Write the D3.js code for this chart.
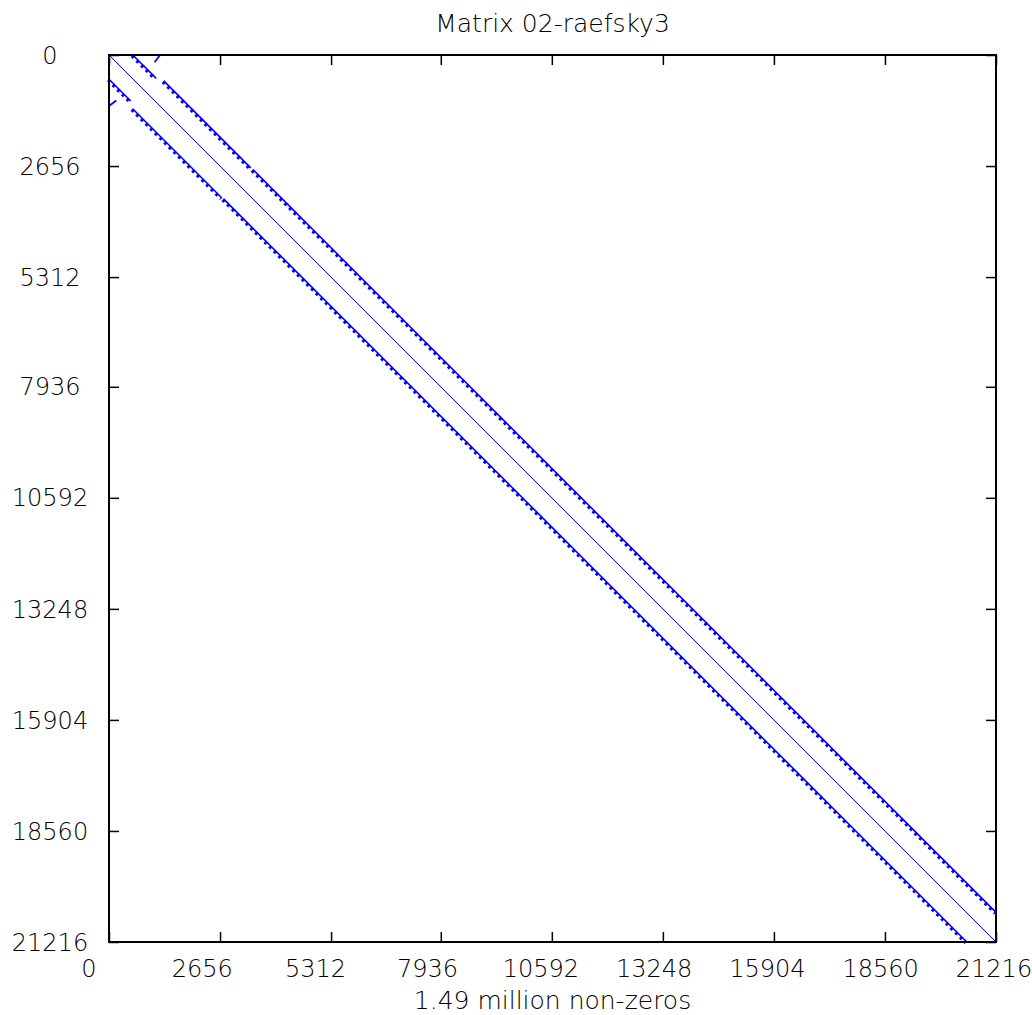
<!DOCTYPE html>
<html><head><meta charset="utf-8">
<script src="https://cdn.jsdelivr.net/npm/d3@7"></script>
<style>
html,body{margin:0;padding:0;background:#fff;}
text{font-family:"DejaVu Sans",sans-serif;fill:#000;}
</style></head>
<body>
<svg id="chart" width="1032" height="1015"></svg>
<script>
// ---- data ----
const matrixSize = 21216;
const tickValues = [0, 2656, 5312, 7936, 10592, 13248, 15904, 18560, 21216];
const tickLabels = ["0", "2656", "5312", "7936", "10592", "13248", "15904", "18560", "21216"];
const titleText = "Matrix 02-raefsky3";
const xLabelText = "1.49 million non-zeros";
// main diagonal: [row0, col0, row1, col1]
const diagonal = [[0, 0, 21216, 21216]];
// upper off-diagonal band pieces: [row0, col0, row1, col1]
const upperBand = [
  [0, 570, 560, 1130],
  [620, 1310, 2700, 3390],
  [2740, 3440, 20506, 21216]
];
// lower off-diagonal band pieces: [row0, col0, row1, col1]
const lowerBand = [
  [580, 0, 1100, 520],
  [1285, 565, 3420, 2700],
  [3440, 2740, 21216, 20516]
];
// small anti-diagonal pieces near the top-left corner
const antiDiag = [
  [0, 1220, 175, 1090],
  [1220, 0, 1090, 175]
];

// ---- layout ----
const svg = d3.select("#chart");
const L = 109, T = 55, S = 887;
const x = d3.scaleLinear().domain([0, matrixSize]).range([L, L + S]);
const y = d3.scaleLinear().domain([0, matrixSize]).range([T, T + S]);
const xLab = d3.scaleLinear().domain([0, matrixSize]).range([89, 994]);

const plot = svg.append("g");
function segs(data, cls, color, width, dash, dx, dy) {
  plot.selectAll("line." + cls).data(data).join("line")
    .attr("class", cls)
    .attr("x1", d => x(d[1]) + (dx || 0)).attr("y1", d => y(d[0]) + (dy || 0))
    .attr("x2", d => x(d[3]) + (dx || 0)).attr("y2", d => y(d[2]) + (dy || 0))
    .attr("stroke", color).attr("stroke-width", width)
    .attr("stroke-dasharray", dash || null);
}
segs(diagonal, "diag", "#0000ff", 1);
segs(upperBand, "ub", "#0000ff", 1.6);
segs(upperBand, "ubd", "#0000ff", 3.4, "2.8 3.8", -0.9, 0.9);
segs(lowerBand, "lb", "#0000ff", 1.6);
segs(lowerBand, "lbd", "#0000ff", 3.4, "2.8 3.8", -0.9, 0.9);
segs(antiDiag, "ad", "#0000ff", 1.8);

// axes (ticks inward on all four sides)
function styleAxis(g) {
  g.select(".domain").remove();
  g.selectAll(".tick line").attr("stroke", "#000").attr("stroke-width", 1.5);
  g.selectAll(".tick text").remove();
}
svg.append("g").attr("transform", `translate(0,${T + S})`)
  .call(d3.axisBottom(x).tickValues(tickValues).tickSize(-10)).call(styleAxis);
svg.append("g").attr("transform", `translate(0,${T})`)
  .call(d3.axisTop(x).tickValues(tickValues).tickSize(-10)).call(styleAxis);
svg.append("g").attr("transform", `translate(${L},0)`)
  .call(d3.axisLeft(y).tickValues(tickValues).tickSize(-10)).call(styleAxis);
svg.append("g").attr("transform", `translate(${L + S},0)`)
  .call(d3.axisRight(y).tickValues(tickValues).tickSize(-10)).call(styleAxis);

// frame
svg.append("rect").attr("x", L).attr("y", T).attr("width", S).attr("height", S)
  .attr("fill", "none").attr("stroke", "#000").attr("stroke-width", 2);

// tick labels
svg.append("g").selectAll("text").data(tickValues).join("text")
  .attr("x", d => xLab(d)).attr("y", 977)
  .attr("text-anchor", "middle").attr("font-size", 24).attr("font-weight", 200)
  .text((d, i) => tickLabels[i]);
svg.append("g").selectAll("text").data(tickValues).join("text")
  .attr("x", 50).attr("y", d => y(d)).attr("dy", "0.36em")
  .attr("text-anchor", "middle").attr("font-size", 24).attr("font-weight", 200)
  .text((d, i) => tickLabels[i]);

// title and x label
svg.append("text").attr("x", L + S / 2).attr("y", 32)
  .attr("text-anchor", "middle").attr("font-size", 25).attr("font-weight", 200)
  .text(titleText);
svg.append("text").attr("x", L + S / 2).attr("y", 1009)
  .attr("text-anchor", "middle").attr("font-size", 25).attr("font-weight", 200)
  .text(xLabelText);
</script>
</body></html>
